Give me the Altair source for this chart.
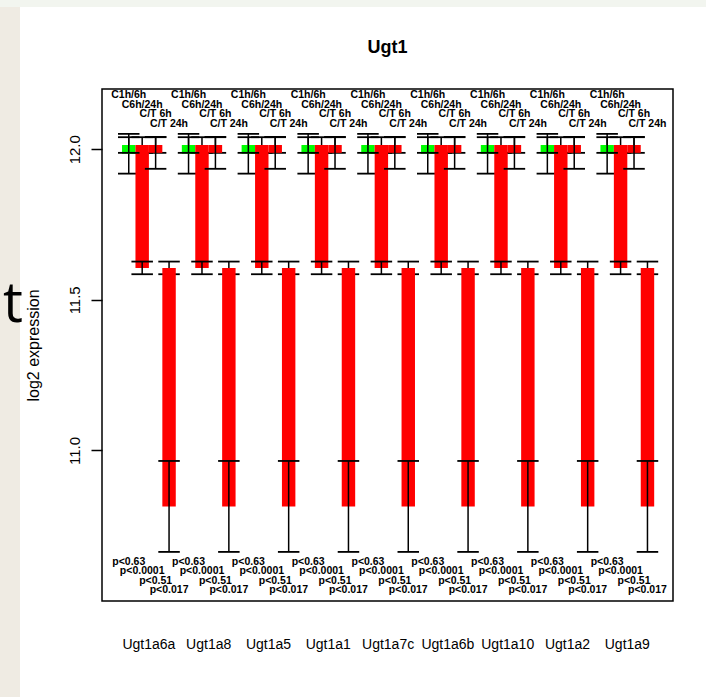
import altair as alt
import pandas as pd

# ---- data -------------------------------------------------------------
genes = ["Ugt1a6a", "Ugt1a8", "Ugt1a5", "Ugt1a1", "Ugt1a7c",
         "Ugt1a6b", "Ugt1a10", "Ugt1a2", "Ugt1a9"]
comparisons = ["C1h/6h", "C6h/24h", "C/T 6h", "C/T 24h"]
p_values = ["p<0.63", "p<0.0001", "p<0.51", "p<0.017"]

# mean log2 expression of each condition, one value per gene
mean_c1h = [11.985, 11.985, 11.985, 11.985, 11.985, 11.985, 11.985, 11.985, 11.985]
mean_c6h = [12.014, 12.014, 12.014, 12.014, 12.014, 12.014, 12.014, 12.014, 12.014]
mean_c24h = [11.606, 11.606, 11.606, 11.606, 11.606, 11.606, 11.606, 11.606, 11.606]
mean_t6h = [11.988, 11.988, 11.988, 11.988, 11.988, 11.988, 11.988, 11.988, 11.988]
mean_t24h = [10.814, 10.814, 10.814, 10.814, 10.814, 10.814, 10.814, 10.814, 10.814]

# standard errors of the same means
se_c1h = [0.066, 0.066, 0.066, 0.066, 0.066, 0.066, 0.066, 0.066, 0.066]
se_c6h = [0.026, 0.026, 0.026, 0.026, 0.026, 0.026, 0.026, 0.026, 0.026]
se_c24h = [0.021, 0.021, 0.021, 0.021, 0.021, 0.021, 0.021, 0.021, 0.021]
se_t6h = [0.053, 0.053, 0.053, 0.053, 0.053, 0.053, 0.053, 0.053, 0.053]
se_t24h = [0.151, 0.151, 0.151, 0.151, 0.151, 0.151, 0.151, 0.151, 0.151]

# ---- layout -----------------------------------------------------------
W, H = 571, 512
PAD = {"left": 102, "top": 89, "right": 33, "bottom": 96}
GROUP_STEP = 4.45          # distance between groups, in bar widths
CAP = 0.8                  # half width of error-bar caps
LABEL_Y_TOP = [12.18, 12.146, 12.117, 12.084]
LABEL_Y_P = [10.629, 10.599, 10.567, 10.537]
FONT = "Liberation Sans"

means = {"C1h": mean_c1h, "C6h": mean_c6h, "C24h": mean_c24h,
         "T6h": mean_t6h, "T24h": mean_t24h}
ses = {"C1h": se_c1h, "C6h": se_c6h, "C24h": se_c24h,
       "T6h": se_t6h, "T24h": se_t24h}
pairs = [("C1h", "C6h"), ("C6h", "C24h"), ("C6h", "T6h"), ("C24h", "T24h")]

bar_rows, err_rows, lab_rows, gene_rows = [], [], [], []
for g, gene in enumerate(genes):
    gene_rows.append({"gene": gene, "xc": g * GROUP_STEP + 2})
    for k, (a, b) in enumerate(pairs):
        x0 = g * GROUP_STEP + k
        xc = x0 + 0.5
        va, vb = means[a][g], means[b][g]
        bar_rows.append({"x0": x0, "x1": x0 + 1, "ya": va, "yb": vb,
                         "dir": "up" if vb > va else "down"})
        for which, cond in (("start", a), ("end", b)):
            m, s = means[cond][g], ses[cond][g]
            err_rows.append({"which": which, "xc": xc, "xl": xc - CAP,
                             "xr": xc + CAP, "lo": m - s, "hi": m + s})
        lab_rows.append({"xc": xc, "top": comparisons[k], "ytop": LABEL_Y_TOP[k],
                         "p": p_values[k], "yp": LABEL_Y_P[k]})

bars = pd.DataFrame(bar_rows)
errs = pd.DataFrame(err_rows)
labs = pd.DataFrame(lab_rows)
gene_df = pd.DataFrame(gene_rows)
one = pd.DataFrame({"v": [0]})

xscale = alt.Scale(domain=[-1.49, 41.0], nice=False, zero=False)
yscale = alt.Scale(domain=[10.5, 12.2], nice=False, zero=False)
yaxis = alt.Axis(values=[11.0, 11.5, 12.0], format=".1f", grid=False, domain=False,
                 tickSize=11, tickWidth=1.5, tickColor="black",
                 labelAngle=270, labelAlign="center", labelBaseline="middle",
                 labelPadding=17, labelFont=FONT, labelFontSize=15, labelColor="black",
                 title="log2 expression", titleFont=FONT, titleFontSize=16,
                 titleFontWeight="normal", titleColor="black", titleAngle=270,
                 titleAlign="center", titleBaseline="middle", titleX=-69, titleY=H / 2)


def X(field):
    return alt.X(field, type="quantitative", scale=xscale, axis=None)


def Y(field):
    return alt.Y(field, type="quantitative", scale=yscale, axis=yaxis)


# pale slide margins around the figure
left_strip = alt.Chart(one).mark_rect(color="#efebe3").encode(
    x=alt.value(-PAD["left"]), x2=alt.value(-PAD["left"] + 20),
    y=alt.value(-PAD["top"]), y2=alt.value(H + PAD["bottom"]))
top_strip = alt.Chart(one).mark_rect(color="#f2f5ef").encode(
    x=alt.value(-PAD["left"]), x2=alt.value(W + PAD["right"]),
    y=alt.value(-PAD["top"]), y2=alt.value(-PAD["top"] + 7))
slide_text = alt.Chart(pd.DataFrame({"t": ["nt"]})).mark_text(
    font="Open Sans", fontSize=56, align="right", baseline="alphabetic",
    color="black").encode(text="t:N", x=alt.value(-79), y=alt.value(233))


def error_layers(which):
    d = alt.Chart(errs).transform_filter(alt.datum.which == which)
    stem = d.mark_rule(color="black", strokeWidth=1.5).encode(
        x=X("xc"), y=Y("lo"), y2="hi")
    cap_lo = d.mark_rule(color="black", strokeWidth=1.8).encode(
        x=X("xl"), x2="xr", y=Y("lo"))
    cap_hi = d.mark_rule(color="black", strokeWidth=1.8).encode(
        x=X("xl"), x2="xr", y=Y("hi"))
    return [stem, cap_lo, cap_hi]


bar_layer = alt.Chart(bars).mark_rect().encode(
    x=X("x0"), x2="x1", y=Y("ya"), y2="yb",
    color=alt.Color("dir:N", scale=alt.Scale(domain=["up", "down"],
                                              range=["#00ff00", "#ff0000"]),
                    legend=None))

top_labels = alt.Chart(labs).mark_text(
    font=FONT, fontSize=10.5, fontWeight="bold", color="black",
    baseline="middle").encode(x=X("xc"), y=Y("ytop"), text="top:N")
p_labels = alt.Chart(labs).mark_text(
    font=FONT, fontSize=10.5, fontWeight="bold", color="black",
    baseline="middle").encode(x=X("xc"), y=Y("yp"), text="p:N")
gene_labels = alt.Chart(gene_df).mark_text(
    font=FONT, fontSize=14, color="black", baseline="middle").encode(
    x=X("xc"), y=alt.value(H + 44), text="gene:N")
title = alt.Chart(pd.DataFrame({"t": ["Ugt1"]})).mark_text(
    font=FONT, fontSize=18, fontWeight="bold", color="black",
    baseline="alphabetic").encode(text="t:N", x=alt.value(W / 2), y=alt.value(-36))

chart = alt.layer(
    left_strip, top_strip, slide_text,
    *error_layers("start"), bar_layer, *error_layers("end"),
    top_labels, p_labels, gene_labels, title,
).properties(
    width=W, height=H, padding=PAD, autosize=alt.AutoSizeParams(type="none"),
    background="white",
).configure_view(stroke="black", strokeWidth=1.5)

chart.save("out.html", embed_options={"renderer": "svg", "actions": False})
